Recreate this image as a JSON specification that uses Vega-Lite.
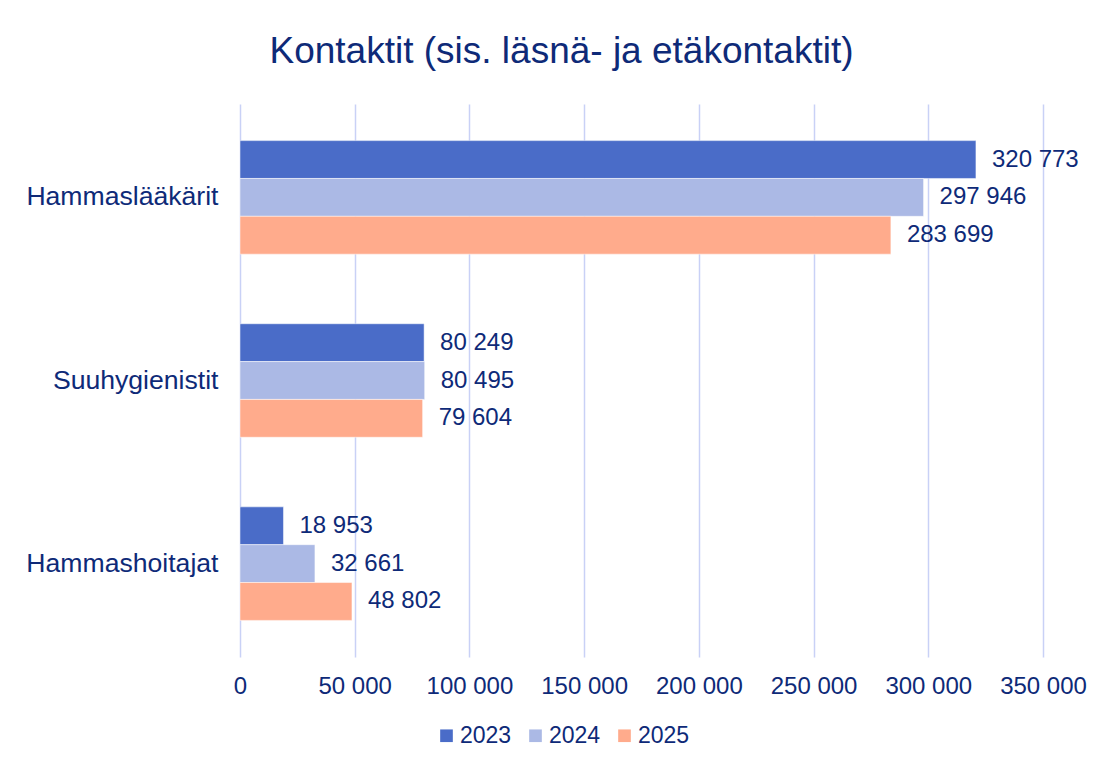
{
  "$schema": "https://vega.github.io/schema/vega-lite/v6.json",
  "width": 803,
  "height": 553,
  "autosize": "none",
  "padding": {"left": 240, "top": 104, "right": 63, "bottom": 113},
  "background": "white",
  "config": {
    "font": "Liberation Sans",
    "locale": {"number": {"decimal": ",", "thousands": " ", "grouping": [3], "currency": ["", " €"]}},
    "view": {"stroke": null}
  },
  "title": {
    "text": "Kontaktit (sis. läsnä- ja etäkontaktit)",
    "fontSize": 37,
    "fontWeight": "normal",
    "color": "#0e2a78",
    "anchor": "middle",
    "dx": -80,
    "offset": 33
  },
  "data": {
    "values": [
      {"ryhma": "Hammaslääkärit", "vuosi": "2023", "kontaktit": 320773},
      {"ryhma": "Hammaslääkärit", "vuosi": "2024", "kontaktit": 297946},
      {"ryhma": "Hammaslääkärit", "vuosi": "2025", "kontaktit": 283699},
      {"ryhma": "Suuhygienistit", "vuosi": "2023", "kontaktit": 80249},
      {"ryhma": "Suuhygienistit", "vuosi": "2024", "kontaktit": 80495},
      {"ryhma": "Suuhygienistit", "vuosi": "2025", "kontaktit": 79604},
      {"ryhma": "Hammashoitajat", "vuosi": "2023", "kontaktit": 18953},
      {"ryhma": "Hammashoitajat", "vuosi": "2024", "kontaktit": 32661},
      {"ryhma": "Hammashoitajat", "vuosi": "2025", "kontaktit": 48802}
    ]
  },
  "encoding": {
    "y": {
      "field": "ryhma",
      "type": "nominal",
      "sort": ["Hammaslääkärit", "Suuhygienistit", "Hammashoitajat"],
      "scale": {"paddingInner": 0.38, "paddingOuter": 0.2},
      "axis": {
        "title": null,
        "domain": false,
        "ticks": false,
        "labelFontSize": 26.6,
        "labelLimit": 0,
        "labelColor": "#0e2a78",
        "labelPadding": 22
      }
    },
    "yOffset": {
      "field": "vuosi",
      "type": "nominal",
      "sort": ["2023", "2024", "2025"]
    },
    "x": {
      "field": "kontaktit",
      "type": "quantitative",
      "scale": {"domain": [0, 350000], "nice": false},
      "axis": {
        "title": null,
        "values": [0, 50000, 100000, 150000, 200000, 250000, 300000, 350000],
        "format": ",d",
        "domain": false,
        "ticks": false,
        "labelOverlap": false,
        "labelFlush": false,
        "labelFontSize": 24,
        "labelColor": "#0e2a78",
        "labelPadding": 17,
        "gridColor": "#c9d1f6",
        "gridWidth": 1.5
      }
    }
  },
  "layer": [
    {
      "mark": {"type": "bar", "stroke": "white", "strokeWidth": 0.5},
      "encoding": {
        "color": {
          "field": "vuosi",
          "type": "nominal",
          "scale": {"domain": ["2023", "2024", "2025"], "range": ["#4a6cc8", "#abb9e5", "#ffab8c"]},
          "legend": {
            "title": null,
            "orient": "none",
            "direction": "horizontal",
            "legendX": 195,
            "legendY": 620,
            "symbolType": "square",
            "symbolSize": 160,
            "symbolStrokeWidth": 0,
            "labelFontSize": 23,
            "labelColor": "#0e2a78",
            "labelOffset": 2,
            "columnPadding": 12
          }
        }
      }
    },
    {
      "mark": {"type": "text", "align": "left", "dx": 16, "fontSize": 24, "color": "#0e2a78"},
      "encoding": {
        "text": {"field": "kontaktit", "type": "quantitative", "format": ",d"}
      }
    }
  ]
}
